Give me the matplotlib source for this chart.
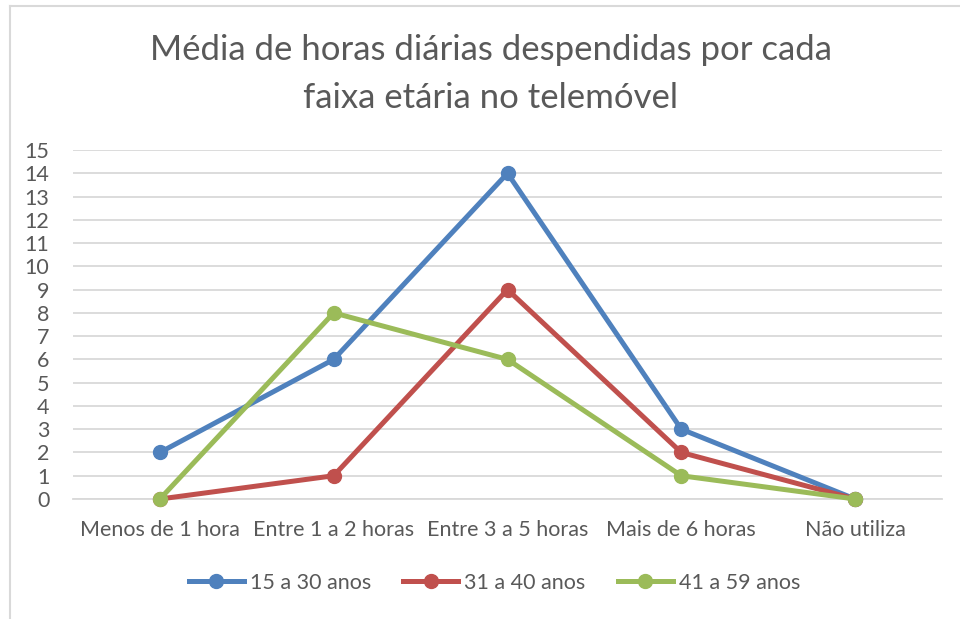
import matplotlib.pyplot as plt
from matplotlib.lines import Line2D

categorias = ["Menos de 1 hora", "Entre 1 a 2 horas", "Entre 3 a 5 horas",
              "Mais de 6 horas", "Não utiliza"]
grupo_15_30 = [2, 6, 14, 3, 0]
grupo_31_40 = [0, 1, 9, 2, 0]
grupo_41_59 = [0, 8, 6, 1, 0]
series = ["15 a 30 anos", "31 a 40 anos", "41 a 59 anos"]
cores = ["#4F81BD", "#C0504D", "#9BBB59"]

plt.rcParams['font.family'] = ['Lato', 'DejaVu Sans']
texto = "#595959"

fig = plt.figure(figsize=(9.6, 6.19), dpi=100)
ax = fig.add_axes([73 / 960, 1 - 499 / 619, (942 - 73) / 960, (499 - 150) / 619])

x = range(len(categorias))
for valores, nome, cor in zip([grupo_15_30, grupo_31_40, grupo_41_59], series, cores):
    ax.plot(x, valores, color=cor, lw=3.6, marker='o', ms=10, label=nome,
            solid_capstyle='round', zorder=3)

ax.set_xlim(-0.5, len(categorias) - 0.5)
ax.set_ylim(0, 15)
ax.set_yticks(range(0, 16))
ax.set_xticks(list(x))
ax.set_xticklabels(categorias)
ax.grid(axis='y', color='#D9D9D9', lw=1.3)
ax.set_axisbelow(True)
for s in ['top', 'right', 'left']:
    ax.spines[s].set_visible(False)
ax.spines['bottom'].set_color('#D9D9D9')
ax.spines['bottom'].set_linewidth(1.3)
ax.tick_params(axis='both', length=0, labelsize=15.5, colors=texto)
ax.tick_params(axis='x', pad=15)
ax.tick_params(axis='y', pad=17)
for ln in ax.lines:
    ln.set_clip_on(False)

fig.text(0.511, 1 - 74 / 619, "Média de horas diárias despendidas por cada\nfaixa etária no telemóvel",
         ha='center', va='center', fontsize=25, color=texto, linespacing=1.6)

handles = [Line2D([], [], color=c, lw=3.6, marker='o', ms=10) for c in cores]
fig.legend(handles, series, loc='center', bbox_to_anchor=(0.515, 1 - 583 / 619),
           ncol=3, frameon=False, fontsize=15.5, labelcolor=texto,
           handlelength=2.55, handletextpad=0.28, columnspacing=1.5)

# moldura do gráfico
fig.add_artist(Line2D([9.5 / 960, 1], [1 - 5.5 / 619] * 2, color='#D9D9D9', lw=1.5))
fig.add_artist(Line2D([9.5 / 960] * 2, [0, 1 - 5.5 / 619], color='#D9D9D9', lw=1.5))

fig.savefig("out.png", dpi=100)
